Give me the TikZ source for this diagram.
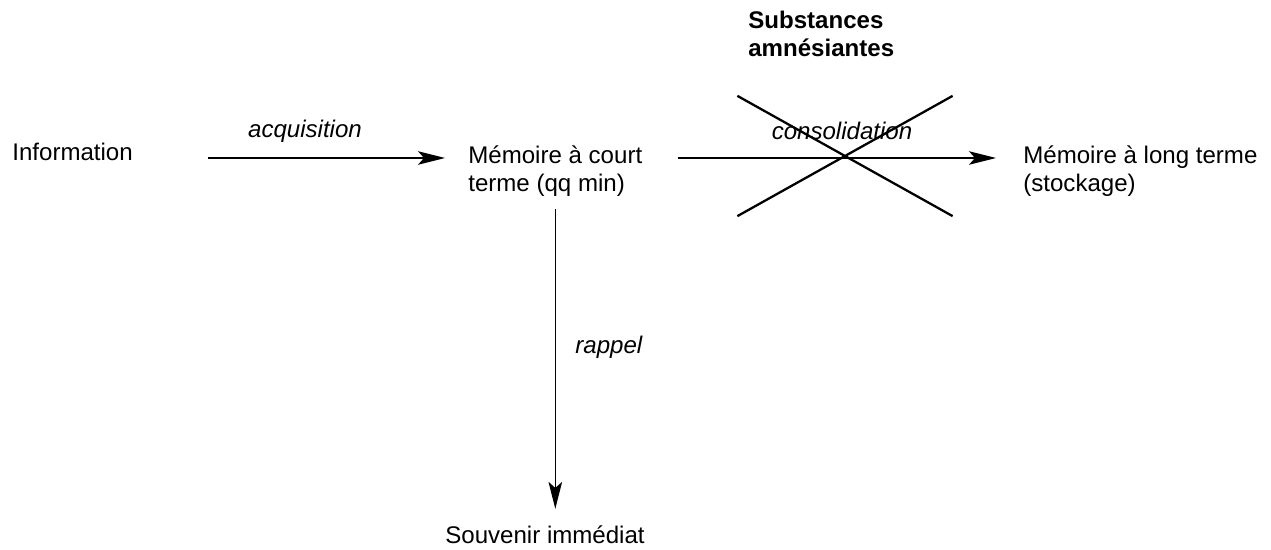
\documentclass[tikz,border=0pt]{standalone}
\usepackage{fontspec}
\setmainfont{Liberation Sans}
\usetikzlibrary{arrows.meta,shapes.misc,positioning}

\tikzset{
  txt/.style={inner sep=0pt, anchor=base west, align=left,
    font=\fontsize{13.7}{16.5}\selectfont},
  lab/.style={txt, font=\fontsize{13.7}{16.5}\selectfont\itshape},
  titre/.style={txt, font=\fontsize{13.7}{16.5}\selectfont\bfseries},
  fleche/.style={-{Stealth[length=0.54cm, width=0.27cm, inset=0.12cm]}, line width=0.9pt},
  barre/.style={draw, cross out, line width=1.3pt, inner sep=0pt,
    minimum width=4.26cm, minimum height=2.36cm}
}

\begin{document}
\begin{tikzpicture}[x=0.02cm, y=-0.02cm]
\useasboundingbox (0,0) rectangle (1271,550);

% les etapes
\node[txt] (info) at (12,161) {Information};
\node[txt] (stm) at (468,192) {Mémoire à court\\terme (qq min)};
\node[txt] (ltm) at (1023,192) {Mémoire à long terme\\(stockage)};
\node[txt] (souv) at (445,543) {Souvenir immédiat};
\node[titre] (subst) at (748,57) {Substances\\amnésiantes};

% les fleches
\coordinate (ligne) at (0,158);
\draw[fleche, shorten <=1.5cm, shorten >=0.46cm] (info.east |- ligne) -- (stm.west |- ligne);
\draw[fleche, shorten <=0.7cm, shorten >=0.54cm] (stm.east |- ligne) -- (ltm.west |- ligne);
\draw[fleche, shorten <=0.24cm, shorten >=0.32cm] (stm.south) -- (stm.south |- souv.north);

\node[lab, anchor=base] (acq) at (305,138) {acquisition};
\node[lab, anchor=base] (cons) at (842,140) {consolidation};
\node[lab] (rap) at (575,354) {rappel};

% blocage
\node[barre] (croix) at (845,156) {};
\end{tikzpicture}
\end{document}
